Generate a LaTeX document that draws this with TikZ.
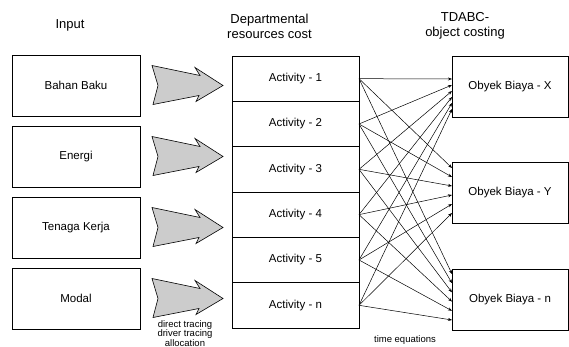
\documentclass[tikz,border=0pt]{standalone}
\usepackage{fontspec}
\setmainfont{Liberation Sans}
\usetikzlibrary{arrows.meta,positioning,calc}

\begin{document}
\begin{tikzpicture}[
  x=1pt, y=1pt,
  box/.style={draw, rectangle, line width=0.9pt, outer sep=0pt, inner sep=0pt,
              font=\fontsize{11.5}{13}\selectfont, align=center},
  inbox/.style={box, minimum width=128pt, minimum height=61pt},
  actbox/.style={box, minimum width=127pt, minimum height=45.33pt},
  objbox/.style={box, minimum width=116pt, minimum height=61pt},
  head/.style={font=\fontsize{13}{15}\selectfont, align=center},
  note/.style={font=\fontsize{9.5}{7}\selectfont, align=center, inner sep=0pt},
  fatarrow/.style={draw=black, fill=gray!40, line width=0.6pt, line join=miter},
  link/.style={-{Stealth[length=4pt,width=3pt]}, line width=0.5pt},
  node distance=10pt
]
  \useasboundingbox (0,0) rectangle (569,-347);

  %% Inputs
  \node[inbox] (in1) at (76,-85.5) {Bahan Baku};
  \node[inbox, below=of in1] (in2) {Energi};
  \node[inbox, below=of in2] (in3) {Tenaga Kerja};
  \node[inbox, below=of in3] (in4) {Modal};

  %% Activities
  \node[actbox, anchor=north west] (a1) at ([xshift=92pt,yshift=-1pt]in1.north east) {Activity - 1};
  \node[actbox, below=0pt of a1] (a2) {Activity - 2};
  \node[actbox, below=0pt of a2] (a3) {Activity - 3};
  \node[actbox, below=0pt of a3] (a4) {Activity - 4};
  \node[actbox, below=0pt of a4] (a5) {Activity - 5};
  \node[actbox, below=0pt of a5] (a6) {Activity - n};

  %% Cost objects
  \node[objbox, anchor=north west] (ox) at ([xshift=93pt]a1.north east) {Obyek Biaya - X};
  \node[objbox, below=45pt of ox] (oy) {Obyek Biaya - Y};
  \node[objbox, below=46pt of oy] (on) {Obyek Biaya - n};

  %% Column titles
  \node[head] (hin) at ([xshift=-6pt,yshift=30pt]in1.north) {Input};
  \node[head] (hdept) at ([xshift=-26pt,yshift=30pt]a1.north) {Departmental\\resources cost};
  \node[head] (hobj) at ([xshift=-45pt,yshift=30pt]ox.north) {TDABC-\\object costing};

  %% Fat arrows input -> activities
  \foreach \n in {in1,in2,in3,in4}
    \draw[fatarrow, shift={(\n.east)}] (12,20) -- (18,0) -- (13,-19) -- (59,-10)
      -- (56,-16) -- (83,0) -- (55,18) -- (60,10) -- cycle;

  %% Time equations: every activity to every object
  \foreach \i in {1,...,6} {
    \draw[link] (a\i.east) -- ([yshift={-(17+6*\i)}]ox.north west);
    \draw[link] (a\i.east) -- ([yshift={-(9*\i-3)}]oy.north west);
    \draw[link] (a\i.east) -- ([yshift={-(9.2*\i-4.2)}]on.north west);
  }

  %% Notes
  \node[note, anchor=north] (ntrace) at ([xshift=45pt,yshift=9pt]in4.south east)
    {direct tracing\\driver tracing\\allocation};
  \node[note] (ntime) at ([xshift=46pt,yshift=-12pt]a6.south east) {time equations};
\end{tikzpicture}
\end{document}
